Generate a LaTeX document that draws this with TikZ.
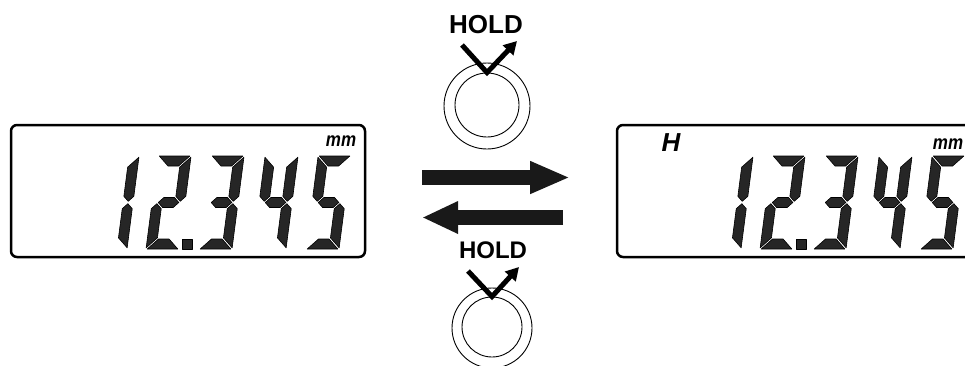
\documentclass[tikz,border=0pt]{standalone}
\usepackage{fontspec}
\setmainfont{Liberation Sans}
\usepackage{graphicx}
\usetikzlibrary{arrows.meta}

% segment geometry of one LCD digit
\newcommand\segw{33}
\newcommand\segh{93}
\newcommand\segt{10}
\newcommand\segg{1.2}

\newcommand\lcddigit[2]{%
  \begin{scope}[shift={(#1,249)}, x={(1pt,0pt)}, y={(0.13pt,1pt)}]
    \foreach \s in {#2} {\pic {seg \s};}
  \end{scope}}

\newcommand\lcdnumber[1]{%
  \lcddigit{94+#1}{b,c}
  \lcddigit{146+#1}{a,b,g,e,d,p}
  \lcddigit{199+#1}{a,b,g,c,d}
  \lcddigit{253+#1}{f,g,b,c}
  \lcddigit{306+#1}{a,f,g,c,d}}

\begin{document}
\begin{tikzpicture}[x=1pt, y=-1pt,
        display/.style={draw, line width=2.5pt, rounded corners=6pt, inner sep=0pt, minimum height=132pt},
        ring/.style={circle, draw, line width=0.9pt, inner sep=0pt},
        holdlabel/.style={inner sep=0pt, font=\bfseries\fontsize{26}{26}\selectfont},
        holdmark/.style={line width=5pt, -{Triangle[length=13pt, width=14pt]}},
        bigarrow/.style={draw=black!90, line width=15pt, -{Triangle[length=40pt, width=30pt]}},
        unit/.style={inner sep=0pt, font=\bfseries\itshape\fontsize{20}{20}\selectfont},
        lcdseg/.style={fill=black!85, draw=black, line width=0.6pt, line join=round},
        seg a/.pic={\path[lcdseg] (\segg,\segh) -- (\segw-\segg,\segh) -- (\segw-\segt-\segg,\segh-\segt) -- (\segt+\segg,\segh-\segt) -- cycle;},
        seg d/.pic={\path[lcdseg] (\segg,0) -- (\segw-\segg,0) -- (\segw-\segt-\segg,\segt) -- (\segt+\segg,\segt) -- cycle;},
        seg f/.pic={\path[lcdseg] (0,\segh-\segg) -- (\segt,\segh-\segt-\segg) -- (\segt,\segh/2+\segt/2+\segg) -- (\segt/2,\segh/2+\segg) -- (0,\segh/2+\segt/2+\segg) -- cycle;},
        seg b/.pic={\path[lcdseg] (\segw,\segh-\segg) -- (\segw-\segt,\segh-\segt-\segg) -- (\segw-\segt,\segh/2+\segt/2+\segg) -- (\segw-\segt/2,\segh/2+\segg) -- (\segw,\segh/2+\segt/2+\segg) -- cycle;},
        seg e/.pic={\path[lcdseg] (0,\segg) -- (\segt,\segt+\segg) -- (\segt,\segh/2-\segt/2-\segg) -- (\segt/2,\segh/2-\segg) -- (0,\segh/2-\segt/2-\segg) -- cycle;},
        seg c/.pic={\path[lcdseg] (\segw,\segg) -- (\segw-\segt,\segt+\segg) -- (\segw-\segt,\segh/2-\segt/2-\segg) -- (\segw-\segt/2,\segh/2-\segg) -- (\segw,\segh/2-\segt/2-\segg) -- cycle;},
        seg g/.pic={\path[lcdseg] (\segt/2+\segg,\segh/2) -- (\segt+\segg,\segh/2+\segt/2) -- (\segw-\segt-\segg,\segh/2+\segt/2) -- (\segw-\segt/2-\segg,\segh/2) -- (\segw-\segt-\segg,\segh/2-\segt/2) -- (\segt+\segg,\segh/2-\segt/2) -- cycle;},
        seg p/.pic={\path[lcdseg] (\segw+3,0) rectangle (\segw+12,10);}
    ]
    \clip (0,0) rectangle (965,365);

    % Displays
    \node[display, minimum width=354pt] (before) at (188,191) {};
    \node[display, minimum width=368pt] (after) at (801,191) {};
    \lcdnumber{0}
    \lcdnumber{614}
    \node[unit] (unitL) at (341,141) {\scalebox{0.85}[1]{mm}};
    \node[unit] (unitR) at (948,144) {\scalebox{0.85}[1]{mm}};
    \node[inner sep=0pt, font=\bfseries\itshape\fontsize{26}{26}\selectfont] (holdflag) at (671,142.5) {H};

    % Top HOLD button
    \node[holdlabel] (toplabel) at (486,25) {HOLD};
    \node[ring, minimum size=86pt] (topouter) at (487,106) {};
    \node[ring, minimum size=64pt] (topinner) at (487,105) {};
    \coordinate (topmarkA) at (462,45);
    \coordinate (topmarkB) at (517,41);
    \draw[holdmark] (topmarkA) -- (topinner.north) -- (topmarkB);

    % Arrows
    \coordinate (fwdstart) at (422,177.5);
    \coordinate (fwdend) at (570,177.5);
    \coordinate (backstart) at (563,217.5);
    \coordinate (backend) at (422,217.5);
    \draw[bigarrow] (fwdstart) -- (fwdend);
    \draw[bigarrow, -{Triangle[length=36pt, width=30pt]}] (backstart) -- (backend);

    % Bottom HOLD button
    \node[holdlabel, font=\bfseries\fontsize{24}{24}\selectfont] (botlabel) at (493,250) {HOLD};
    \node[ring, minimum size=80pt] (botouter) at (492,328) {};
    \node[ring, minimum size=60pt] (botinner) at (492,327) {};
    \coordinate (botmarkA) at (468,271);
    \coordinate (botmarkB) at (519,267);
    \draw[holdmark] (botmarkA) -- (botinner.north) -- (botmarkB);
\end{tikzpicture}
\end{document}
